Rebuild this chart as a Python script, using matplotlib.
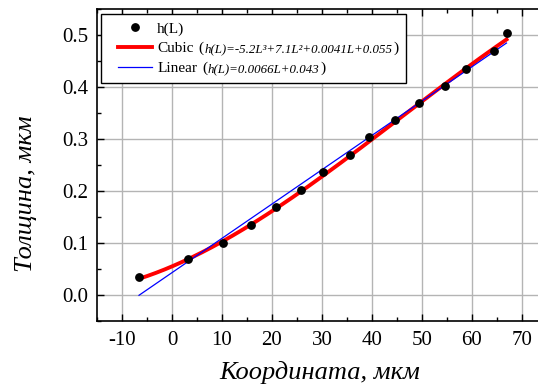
import numpy as np
import matplotlib
matplotlib.use("Agg")
import matplotlib.pyplot as plt
from matplotlib.ticker import MultipleLocator, FormatStrFormatter
from matplotlib.lines import Line2D
from matplotlib.legend_handler import HandlerLine2D
from matplotlib.offsetbox import TextArea, HPacker

plt.rcParams['font.family'] = ['Liberation Serif', 'DejaVu Serif']
plt.rcParams['axes.unicode_minus'] = False

# Measured thickness along the coordinate
coord_um = [-6.6, 3.1, 10.1, 15.7, 20.7, 25.7, 30.2, 35.5, 39.4, 44.6, 49.3, 54.6, 58.7, 64.4, 66.9]
thick_um = [0.035, 0.069, 0.100, 0.135, 0.169, 0.202, 0.236, 0.269, 0.303, 0.337, 0.370, 0.402, 0.435, 0.470, 0.503]

# Fit coefficients (highest power first)
cubic_coef = [-5.2e-7, 7.1e-5, 0.0041, 0.055]
linear_coef = [0.0066, 0.043]

cubic_eq = "h(L)=-5.2L³+7.1L²+0.0041L+0.055"
linear_eq = "h(L)=0.0066L+0.043"

W, H = 538, 387
AXW = 445
fig = plt.figure(figsize=(W / 100, H / 100), dpi=100)
ax = fig.add_axes([97 / W, (H - 321) / H, AXW / W, 312 / H])

L = np.linspace(min(coord_um), max(coord_um), 300)
ax.plot(coord_um, thick_um, 'o', color='black', markersize=5.3, label='h(L)', zorder=4)
ax.plot(L, np.polyval(cubic_coef, L), color='#ff0000', lw=2.8, label='Cubic', zorder=3)
ax.plot(L, np.polyval(linear_coef, L), color='#0000ff', lw=0.9, label='Linear', zorder=3)

ax.set_xlim(-15, 74)
ax.set_ylim(-0.05, 0.55)
ax.xaxis.set_major_locator(MultipleLocator(10))
ax.xaxis.set_minor_locator(MultipleLocator(5))
ax.yaxis.set_major_locator(MultipleLocator(0.1))
ax.yaxis.set_minor_locator(MultipleLocator(0.05))
ax.yaxis.set_major_formatter(FormatStrFormatter('%.1f'))

ax.grid(True, which='major', color='#b4b4b4', lw=1.0)
ax.set_axisbelow(True)
ax.tick_params(which='both', direction='in', top=True, right=False, labelsize=15)
ax.tick_params(axis='x', pad=7)
ax.tick_params(axis='y', pad=6)
ax.tick_params(which='major', length=5, width=1)
ax.tick_params(which='minor', length=3, width=1)
for s in ax.spines.values():
    s.set_linewidth(1.2)

ax.set_xlabel('Координата, мкм', fontsize=19, style='italic', va='center')
ax.xaxis.set_label_coords((320 - 97) / AXW, (321 - 372) / 312)
ax.set_ylabel('Толщина, мкм', fontsize=19, style='italic', va='center')
ax.yaxis.set_label_coords((26 - 97) / AXW, (321 - 194) / 312)

leg = ax.legend(loc='upper left', bbox_to_anchor=(101 / W, 1 - 14 / H), bbox_transform=fig.transFigure,
                borderaxespad=0, fontsize=11, frameon=True, fancybox=False, framealpha=1,
                edgecolor='black', handlelength=2.84, handletextpad=0.33, borderpad=0.5,
                labelspacing=0.4, handler_map={Line2D: HandlerLine2D(xpad=0.62)})
leg.get_frame().set_linewidth(1.0)

# Append the fitted equation after each fit label
equations = {'Cubic': cubic_eq, 'Linear': linear_eq}
for col in leg._legend_handle_box.get_children():
    for item in col.get_children():
        name = item.get_children()[1]._text.get_text()
        if name in equations:
            parts = [
                TextArea('(', textprops=dict(fontsize=11)),
                TextArea(equations[name], textprops=dict(fontsize=9.3, style='italic')),
                TextArea(')', textprops=dict(fontsize=11)),
            ]
            eq_box = HPacker(children=parts, sep=0.5, pad=0, align='baseline')
            eq_box.set_figure(fig)
            for p in parts:
                p.set_figure(fig)
                p._text.set_figure(fig)
            item._children.append(eq_box)

fig.savefig('out.png', dpi=100)
